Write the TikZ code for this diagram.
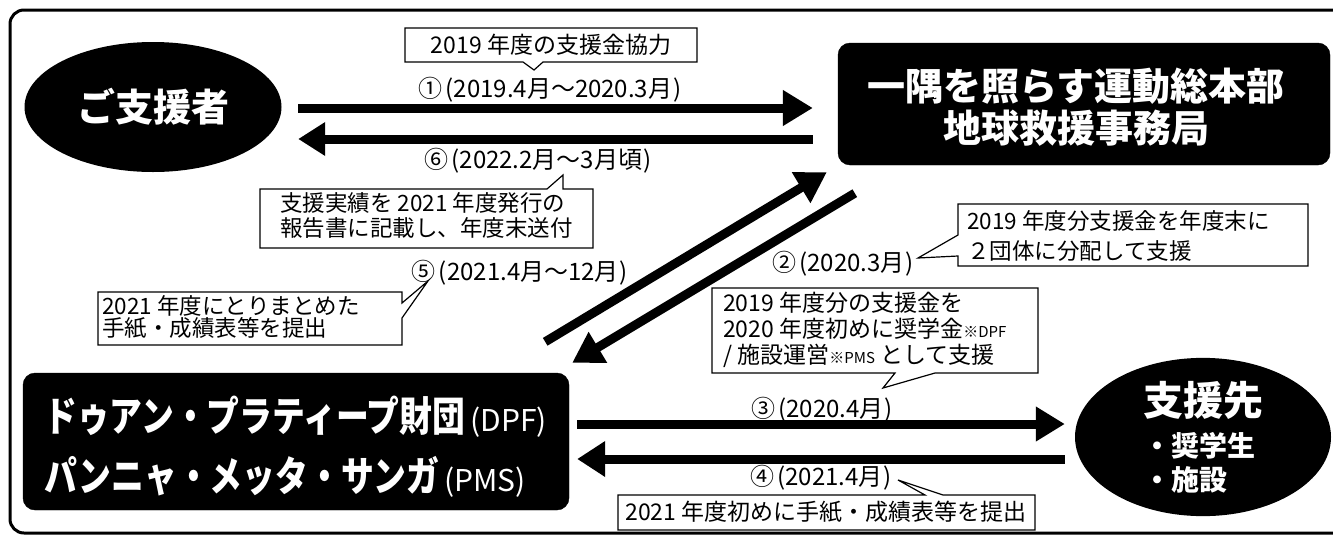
\documentclass[tikz,border=0pt]{standalone}
\usepackage{fontspec}
\setmainfont{Noto Sans CJK JP}
\newfontfamily\jpcond{Noto Sans CJK JP}[FakeStretch=0.8]
\usetikzlibrary{arrows.meta,shapes.geometric,calc}
\tikzset{
  blackbox/.style={draw=black, fill=black, rounded corners=12pt, inner sep=0pt},
  whitetxt/.style={text=white, inner sep=0pt},
  cbox/.style={draw=black, fill=white, line width=1.2pt, line join=miter},
  ctext/.style={inner sep=0pt, align=left, anchor=west},
  lbl/.style={font=\fontsize{24}{25}\selectfont, inner sep=0pt},
  bigarrow/.style={line width=9pt, -{Triangle[length=30pt,width=34pt]}},
}
\newcommand{\lp}{\hspace{3pt}(}
\newcommand{\rp}{\hspace{1pt})}
\begin{document}
\begin{tikzpicture}[x=1pt,y=-1pt]
\useasboundingbox (0,0) rectangle (1333,536);
\fill[white] (0,0) rectangle (1333,536);
% frame (its right side lies beyond the picture)
\draw[line width=3pt, rounded corners=14pt] (10,10) rectangle (1348,533);

% main nodes
\node[ellipse, fill=black, minimum width=257pt, minimum height=130pt, inner sep=0pt,
      text=white, font=\bfseries\fontsize{38}{42}\selectfont] (sup) at (153,107) {ご支援者};

\node[blackbox, minimum width=492pt, minimum height=122pt] (hq) at (1084,104) {};
\node[whitetxt, font=\bfseries\fontsize{38}{42}\selectfont, align=center] (hqtxt) at (1076,107)
  {一隅を照らす運動総本部\\地球救援事務局};

\node[blackbox, minimum width=546pt, minimum height=137pt] (org) at (296,441.5) {};
\node[whitetxt, font=\jpcond\bfseries\fontsize{41}{60}\selectfont, anchor=west, align=left] (orgtxt) at (44,447)
  {ドゥアン・プラティープ財団{\rmfamily\mdseries\fontsize{30}{60}\selectfont\,(DPF)}\\パンニャ・メッタ・サンガ{\rmfamily\mdseries\fontsize{30}{60}\selectfont\,(PMS)}};

\node[ellipse, fill=black, minimum width=256pt, minimum height=154pt, inner sep=0pt,
      text=white, font=\bfseries\fontsize{28}{34}\selectfont, align=left] (dest) at (1203,437)
  {{\fontsize{40}{40}\selectfont 支援先}\\[7pt]・奨学生\\・施設};

% arrows
\draw[bigarrow] ($(sup.east)+(16.5,1)$) -- ($(hq.west)+(-25,4)$);
\draw[bigarrow, -{Triangle[length=27pt,width=32pt]}] ($(hq.west)+(-25,35)$) -- ($(sup.east)+(16.5,32)$);
\draw[bigarrow] ($(org.north east)+(-24,-31)$) -- ($(hq.south west)+(-11,7)$);
\draw[bigarrow] ($(hq.south west)+(17,28)$) -- ($(org.north east)+(3,-10)$);
\draw[bigarrow, -{Triangle[length=29pt,width=33pt]}] ($(org.east)+(8,-17.5)$) -- ($(dest.west)+(-10,-13)$);
\draw[bigarrow, -{Triangle[length=28pt,width=34pt]}] ($(dest.west)+(-10,22)$) -- ($(org.east)+(8,17.5)$);

% arrow labels
\node[lbl] (l1) at (550,90) {①\lp 2019.4月～2020.3月\rp};
\node[lbl] (l6) at (538,161) {⑥\lp 2022.2月～3月頃\rp};
\node[lbl] (l5) at (520,273) {⑤\lp 2021.4月～12月\rp};
\node[lbl] (l2) at (843,264) {②\lp 2020.3月\rp};
\node[lbl] (l3) at (822,410) {③\lp 2020.4月\rp};
\node[lbl] (l4) at (821,478) {④\lp 2021.4月\rp};

% callouts
\draw[cbox] (405,28) -- (697,28) -- (697,62) -- (543,62) -- (534,70) -- (523,62) -- (405,62) -- cycle;
\node[ctext, anchor=center, font=\fontsize{23}{25}\selectfont] (c1) at (551,45) {2019 年度の支援金協力};

\draw[cbox] (260,189) -- (547,189) -- (563,175) -- (563,189) -- (593,189) -- (593,248) -- (260,248) -- cycle;
\node[ctext, font=\fontsize{22.5}{25}\selectfont] (c6) at (280,215.5) {支援実績を 2021 年度発行の\\報告書に記載し、年度末送付};

\draw[cbox] (98,292) -- (402,292) -- (402,303) -- (428,281) -- (402,318) -- (402,345) -- (98,345) -- cycle;
\node[ctext, font=\fontsize{22.5}{22}\selectfont] (c5) at (102,317) {2021 年度にとりまとめた\\手紙・成績表等を提出};

\draw[cbox] (958,204) -- (1308,204) -- (1308,266) -- (958,266) -- (958,256) -- (918,258) -- (958,235) -- cycle;
\node[ctext, font=\fontsize{22.5}{30}\selectfont] (c2) at (967,236) {2019 年度分支援金を年度末に\\２団体に分配して支援};

\draw[cbox] (712,288) -- (1038,288) -- (1038,373) -- (935,373) -- (883,388) -- (895,373) -- (712,373) -- cycle;
\node[ctext, font=\fontsize{23}{26}\selectfont] (c3) at (723,330)
  {2019 年度分の支援金を\\2020 年度初めに奨学金{\fontsize{15}{26}\selectfont ※DPF}\\/ 施設運営{\fontsize{15}{26}\selectfont ※PMS} として支援};

\draw[cbox] (618,495) -- (925,495) -- (898,480) -- (943,495) -- (1035,495) -- (1035,530) -- (618,530) -- cycle;
\node[ctext, anchor=center, font=\fontsize{23}{25}\selectfont] (c4) at (826,512) {2021 年度初めに手紙・成績表等を提出};
\end{tikzpicture}
\end{document}
